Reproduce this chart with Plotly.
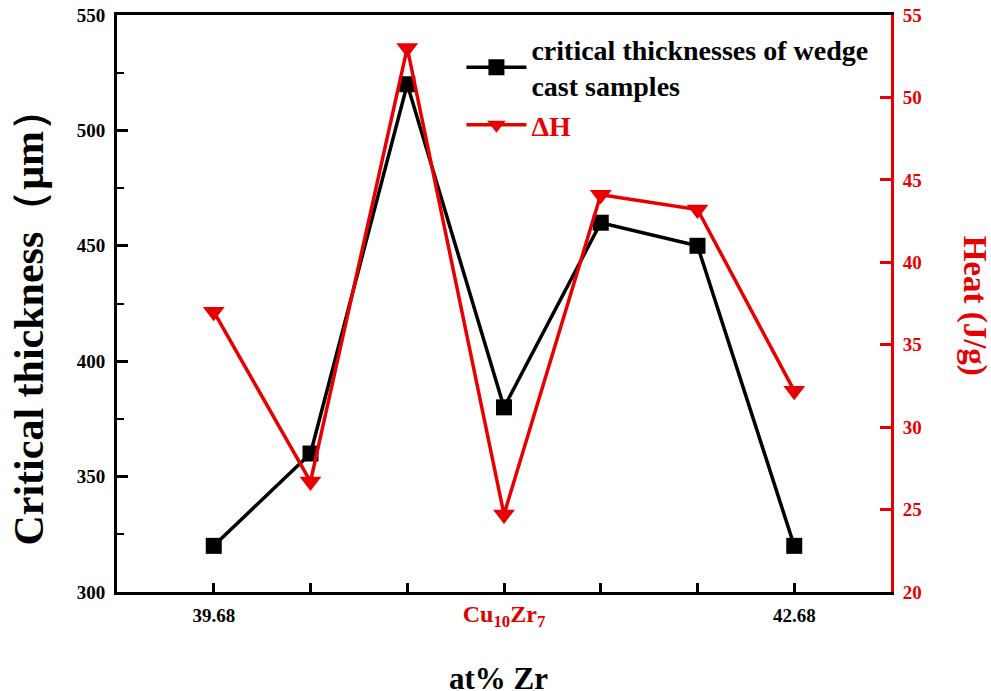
import plotly.graph_objects as go

positions = [0, 1, 2, 3, 4, 5, 6]
tick_labels = ["39.68", "", "", "<span style='color:#e00000;font-size:24px'>Cu<sub>10</sub>Zr<sub>7</sub></span>", "", "", "42.68"]
critical_thickness = [320, 360, 520, 380, 460, 450, 320]
delta_h = [37.0, 26.7, 53.0, 24.7, 44.1, 43.2, 32.2]
left_ticks = [300, 350, 400, 450, 500, 550]
right_ticks = [20, 25, 30, 35, 40, 45, 50, 55]

FONT = "Liberation Serif, Times New Roman, serif"
RED = "#e80000"

fig = go.Figure()
fig.add_trace(go.Scatter(
    x=positions, y=critical_thickness, mode="lines+markers",
    name="<b>critical thicknesses of wedge<br>cast samples</b>",
    line=dict(color="black", width=3.5),
    marker=dict(symbol="square", size=16, color="black"),
))
fig.add_trace(go.Scatter(
    x=positions, y=delta_h, mode="lines+markers", yaxis="y2",
    name=f"<b><span style='color:{RED}'>ΔH</span></b>",
    line=dict(color=RED, width=3.5),
    marker=dict(symbol="triangle-down", size=19, color=RED),
))

fig.update_layout(
    width=991, height=691,
    margin=dict(l=117, r=100, t=15, b=99, autoexpand=False),
    plot_bgcolor="white", paper_bgcolor="white",
    font=dict(family=FONT, color="black"),
    showlegend=True,
    legend=dict(x=0.445, y=0.984, xanchor="left", yanchor="top",
                font=dict(family=FONT, size=28, color="black"),
                itemwidth=60,
                bgcolor="rgba(0,0,0,0)", tracegroupgap=4),
    xaxis=dict(
        range=[-1, 7], tickvals=positions, ticktext=[f"<b>{t}</b>" if t else " " for t in tick_labels],
        ticks="inside", ticklen=9, tickwidth=2.5, tickcolor="black",
        showline=True, linewidth=3, linecolor="black", mirror=True,
        showgrid=False, zeroline=False,
        tickfont=dict(family=FONT, size=19, color="black"),
        ticklabelstandoff=4,
    ),
    yaxis=dict(
        range=[300, 550], tickvals=left_ticks,
        ticktext=[f"<b>{v}</b>" for v in left_ticks],
        ticks="inside", ticklen=11, tickwidth=2.5, tickcolor="black",
        minor=dict(ticks="inside", ticklen=7, tickwidth=2, tickcolor="black", dtick=25, tick0=300, showgrid=False),
        showline=True, linewidth=3, linecolor="black",
        showgrid=False, zeroline=False,
        tickfont=dict(family=FONT, size=19, color="black"),
        ticklabelstandoff=5, ticklabeloverflow="allow",
    ),
    yaxis2=dict(
        range=[20, 55], tickvals=right_ticks,
        ticktext=[f"<b>{v}</b>" for v in right_ticks],
        overlaying="y", side="right",
        ticks="inside", ticklen=11, tickwidth=2.5, tickcolor=RED,
        showline=True, linewidth=3, linecolor=RED,
        showgrid=False, zeroline=False,
        tickfont=dict(family=FONT, size=19, color=RED),
        ticklabelstandoff=5, ticklabeloverflow="allow",
    ),
    annotations=[
        dict(text="<b>Critical thickness（μm）</b>", xref="paper", yref="paper",
             x=-0.114, y=0.477, textangle=-90, showarrow=False,
             font=dict(family=FONT, size=42, color="black"), xanchor="center", yanchor="middle"),
        dict(text="<b>Heat (J/g)</b>", xref="paper", yref="paper",
             x=1.108, y=0.497, textangle=90, showarrow=False,
             font=dict(family=FONT, size=33, color=RED), xanchor="center", yanchor="middle"),
        dict(text="<b>at% Zr</b>", xref="paper", yref="paper",
             x=0.4935, y=-0.150, showarrow=False,
             font=dict(family=FONT, size=31, color="black"), xanchor="center", yanchor="middle"),
    ],
)

fig.write_html("out.html", config={"displayModeBar": False},
               post_script="document.body.style.margin='0';document.body.style.overflow='hidden';")
